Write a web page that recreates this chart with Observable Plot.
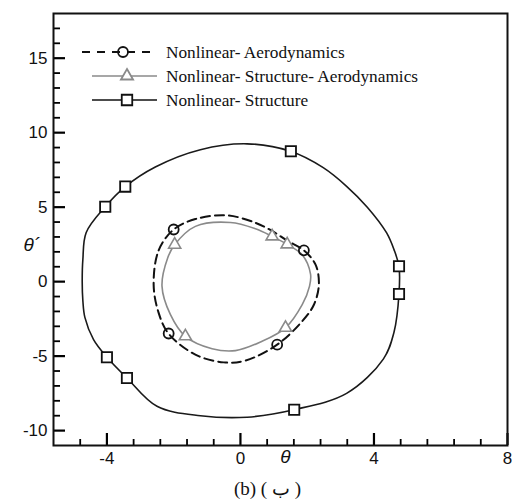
<!DOCTYPE html>
<html>
<head>
<meta charset="utf-8">
<script src="https://cdn.jsdelivr.net/npm/d3@7"></script>
<script src="https://cdn.jsdelivr.net/npm/@observablehq/plot@0.6"></script>
<style>
  html, body { margin: 0; padding: 0; background: white; }
  #wrap { position: relative; width: 512px; height: 502px; }
  #caption { position: absolute; left: 0; top: 476px; width: 535px; text-align: center;
    font: 19px "Liberation Serif", "Times New Roman", serif; line-height: 26px; color: #111; }
</style>
</head>
<body>
<div id="wrap"><div id="chart"></div><div id="caption">(b) ( ب )</div></div>
<script>
// Nonlinear- Structure (outer closed orbit), [theta, theta']
const structure = [
  [0.2, 9.25], [1.5, 8.75], [2.48, 7.65], [3.18, 6.4], [3.8, 5.0], [4.38, 3.27], [4.6, 2.15],
  [4.75, 1.0], [4.75, -0.8], [4.6, -3.4], [4.28, -5.2], [3.18, -7.5], [1.6, -8.6], [0.2, -9.1],
  [-1.2, -9.0], [-2.5, -8.37], [-3.4, -6.47], [-4.0, -5.08], [-4.4, -3.9], [-4.66, -2.4], [-4.72, -1.3],
  [-4.74, 0], [-4.72, 1.5], [-4.62, 3.3], [-4.05, 5.03], [-3.45, 6.38], [-2.55, 7.7], [-1.2, 8.86]
];
const structureMarkers = [
  [-4.05, 5.03], [-3.45, 6.38], [1.51, 8.75], [4.75, 1.03], [4.75, -0.83], [1.61, -8.6], [-4.0, -5.08], [-3.4, -6.47]
];
// Nonlinear- Aerodynamics (dashed)
const aero = [
  [-2.6, -0.2], [-2.45, 2.1], [-2.0, 3.5], [-1.35, 4.2], [-0.4, 4.45], [0.45, 3.95], [0.95, 3.4],
  [1.4, 2.75], [1.9, 2.1], [2.25, 1.14], [2.35, -0.2], [2.2, -1.55], [1.85, -2.66], [1.1, -4.23],
  [0.15, -5.3], [-0.5, -5.42], [-1.35, -4.9], [-2.15, -3.5], [-2.45, -2.1]
];
const aeroMarkers = [[-2.0, 3.5], [1.9, 2.1], [-2.15, -3.48], [1.1, -4.23]];
// Nonlinear- Structure- Aerodynamics (gray)
const strAero = [
  [-2.35, -0.3], [-2.18, 1.59], [-1.97, 2.48], [-1.35, 3.71], [-0.3, 3.97], [0.45, 3.55], [0.95, 3.04],
  [1.4, 2.5], [1.85, 1.8], [2.1, 0.5], [2.07, -0.3], [1.85, -1.55], [1.35, -3.1], [0.6, -4.05],
  [-0.15, -4.63], [-0.85, -4.5], [-1.65, -3.67], [-2.1, -2.2]
];
const strAeroMarkers = [[-1.97, 2.48], [0.95, 3.04], [1.4, 2.5], [1.35, -3.1], [-1.65, -3.67]];

const xMajor = [-4, 0, 4, 8];
const yMajor = [-10, -5, 0, 5, 10, 15];
const xMinor = d3.range(-4.8, 8, 0.8).filter(v => !xMajor.some(m => Math.abs(m - v) < 1e-6));
const yMinor = d3.range(-10, 18, 1).filter(v => !yMajor.includes(v));

const legendItems = [
  {label: "Nonlinear- Aerodynamics", stroke: "#111", dash: "8,7", symbol: d3.symbolCircle, fill: "none", msize: 78, mstroke: "#111"},
  {label: "Nonlinear- Structure- Aerodynamics", stroke: "#8a8a8a", dash: null, symbol: d3.symbolTriangle, fill: "white", msize: 64, mstroke: "#8a8a8a"},
  {label: "Nonlinear- Structure", stroke: "#111", dash: null, symbol: d3.symbolSquare, fill: "white", msize: 110, mstroke: "#111"}
];

const W = 512, H = 472, ML = 53, MR = 5, MT = 13, MB = 27;
const innerW = W - ML - MR, innerH = H - MT - MB;
const chart = Plot.plot({
  width: W, height: H,
  marginLeft: ML, marginRight: MR, marginTop: MT, marginBottom: MB,
  x: {domain: [-5.6, 8]},
  y: {domain: [-11, 18]},
  style: {fontFamily: "'Liberation Sans', Arial, sans-serif", fontSize: "17px", background: "white"},
  marks: [
    Plot.line(structure, {x: d => d[0], y: d => d[1], curve: "catmull-rom-closed", stroke: "#1a1a1a", strokeWidth: 1.6}),
    Plot.line(strAero, {x: d => d[0], y: d => d[1], curve: "catmull-rom-closed", stroke: "#8a8a8a", strokeWidth: 1.6}),
    Plot.line(aero, {x: d => d[0], y: d => d[1], curve: "catmull-rom-closed", stroke: "#111", strokeWidth: 2, strokeDasharray: "9,5"}),
    Plot.dot(aeroMarkers, {x: d => d[0], y: d => d[1], symbol: "circle", r: 5, stroke: "#111", fill: "none", strokeWidth: 1.8}),
    Plot.dot(strAeroMarkers, {x: d => d[0], y: d => d[1], symbol: "triangle", r: 4.5, stroke: "#8a8a8a", fill: "white", strokeWidth: 1.6}),
    Plot.dot(structureMarkers, {x: d => d[0], y: d => d[1], symbol: "square", r: 5.8, stroke: "#111", fill: "white", strokeWidth: 1.8}),
    Plot.axisX(xMajor, {tickSize: 0, tickPadding: 6, label: null, tickFormat: d => String(d), fill: "#111"}),
    Plot.axisY(yMajor, {tickSize: 0, tickPadding: 6, label: null, tickFormat: d => String(d), fill: "#111"}),
    // inward ticks on the bottom and left edges
    Plot.tickX(xMajor, {x: d => d, insetTop: innerH - 12, stroke: "black", strokeWidth: 2.2}),
    Plot.tickX(xMinor, {x: d => d, insetTop: innerH - 6, stroke: "black", strokeWidth: 1.8}),
    Plot.tickY(yMajor, {y: d => d, insetRight: innerW - 12, stroke: "black", strokeWidth: 2.2}),
    Plot.tickY(yMinor, {y: d => d, insetRight: innerW - 7, stroke: "black", strokeWidth: 1.8}),
    Plot.frame({stroke: "#111", strokeWidth: 2}),
    Plot.text(["θ"], {frameAnchor: "bottom", dx: 5, dy: 17, fontStyle: "italic", fontSize: 19, fill: "#111"}),
    Plot.text(["θ´"], {frameAnchor: "left", dx: -30, dy: 15, fontStyle: "italic", fontSize: 19, fill: "#111"})
  ]
});
document.getElementById("chart").appendChild(chart);

// Legend drawn into the plot's SVG
const svg = d3.select(chart);
const lg = svg.append("g").attr("class", "legend");
const rowY = [52, 76, 100];
legendItems.forEach((it, i) => {
  const y = rowY[i];
  const lx0 = i === 0 ? 82 : 92, lx1 = i === 0 ? 150 : 157, mx = i === 0 ? 123 : 127;
  lg.append("line").attr("x1", lx0).attr("x2", lx1).attr("y1", y).attr("y2", y)
    .attr("stroke", it.stroke).attr("stroke-width", i === 0 ? 2 : 1.6)
    .attr("stroke-dasharray", it.dash);
  lg.append("path").attr("d", d3.symbol(it.symbol, it.msize)())
    .attr("transform", `translate(${mx},${y})`)
    .attr("fill", it.fill).attr("stroke", it.mstroke).attr("stroke-width", 1.8);
  lg.append("text").attr("x", 166).attr("y", y).attr("dy", "0.35em")
    .attr("text-anchor", "start")
    .attr("font-family", "'Liberation Serif', 'Times New Roman', serif").attr("font-size", 17.3)
    .attr("fill", "#111").text(it.label);
});
</script>
</body>
</html>
